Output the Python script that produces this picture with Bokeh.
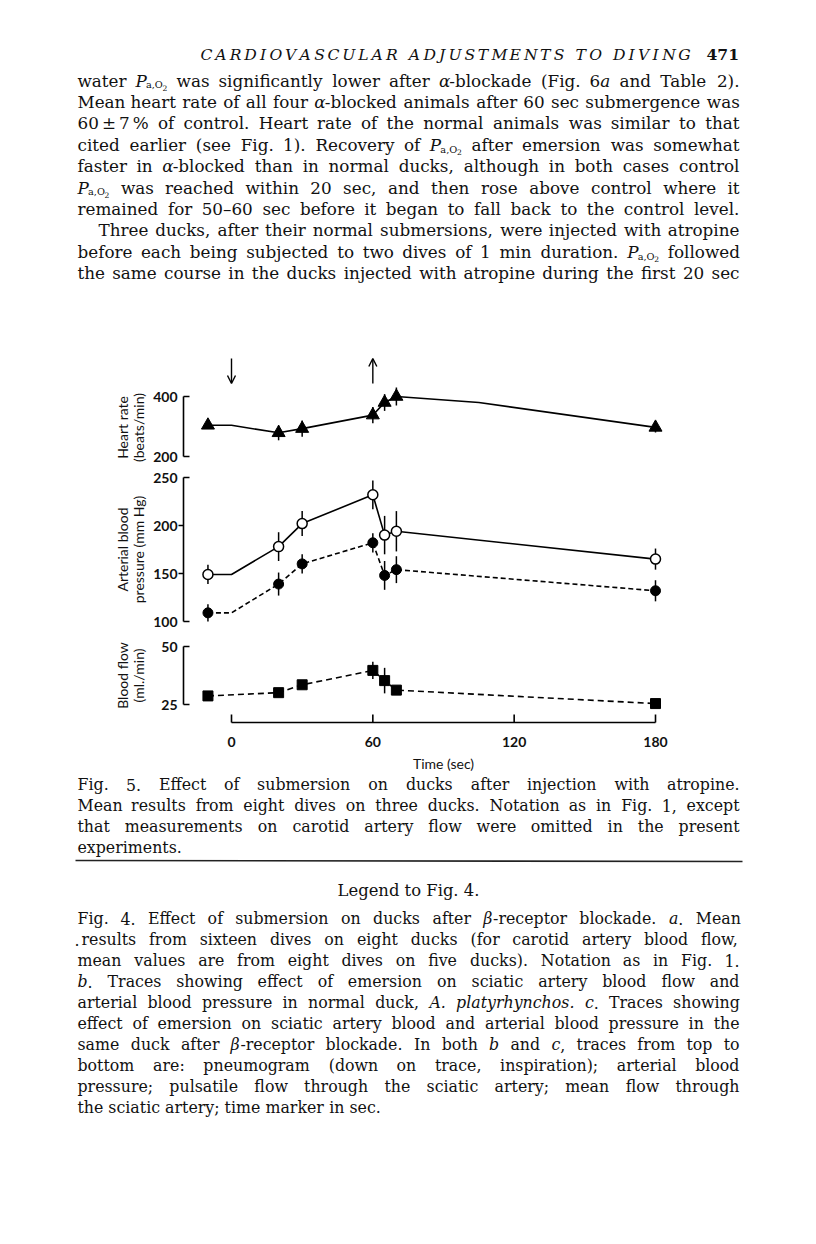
import math
from bokeh.plotting import figure
from bokeh.models import Range1d, Arrow, OpenHead
from bokeh.core.properties import value
from bokeh.embed import file_html
from bokeh.resources import INLINE

# ---------------- data ----------------
time_s = [-10, 20, 30, 60, 65, 70, 180]
heart_rate = [304, 279, 293, 338, 380, 400, 297]
heart_rate_err = [12, 25, 27, 27, 28, 30, 17]
heart_line_t = [-10, 0, 20, 30, 60, 65, 70, 105, 180]
heart_line_v = [304, 304, 279, 293, 338, 380, 400, 380, 297]
pressure_line_t = [-10, 0, 20, 30, 60, 65, 70, 180]
bp_open = [149, 178, 202, 232, 190, 194, 165]
bp_open_err = [10, 15, 13, 15, 20, 21, 11]
bp_filled = [109, 139, 160, 182, 148, 154, 132]
bp_filled_err = [9, 12, 10, 10, 15, 14, 11]
flow = [28.7, 30.1, 33.5, 39.7, 35.3, 31.2, 25.4]
flow_err = [0.0, 0.0, 0.0, 3.7, 5.5, 0.0, 0.0]
hr_ticks = [200, 400]
bp_ticks = [100, 150, 200, 250]
flow_ticks = [25, 50]
time_ticks = [0, 60, 120, 180]
time_tick_labels = ["0", "60", "120", "180"]
event_t = [0, 60]

# ---------------- page layout ----------------
W, H = 800, 1228
PX0, PX1, PY0, PY1 = 0, W, 0, H
PX_T0, PX_T180 = 231, 655
HR_MAP = ((400, 396), (200, 456))
BP_MAP = ((250, 477), (100, 621))
FL_MAP = ((50, 646), (25, 704))
AXIS_X = 183
TIME_AXIS_Y = 722
LM, RM = 77, 739
SERIF = "DejaVu Serif"
SANS = "Lato"
INK = "#111111"

p = figure(width=W, height=H, x_range=Range1d(PX0, PX1), y_range=Range1d(PY1, PY0),
           x_axis_location=None, y_axis_location=None, toolbar_location=None,
           output_backend="svg", min_border=0, outline_line_color=None,
           background_fill_color="white", border_fill_color="white")
p.xgrid.visible = False
p.ygrid.visible = False


def t_of(px):
    return (px - PX_T0) * 180.0 / (PX_T180 - PX_T0)


def range_from(m):
    (va, ya), (vb, yb) = m
    f = lambda y: va + (y - ya) * (vb - va) / (yb - ya)
    return Range1d(f(PY1), f(PY0))


p.extra_x_ranges = {"t": Range1d(t_of(PX0), t_of(PX1))}
p.extra_y_ranges = {"hr": range_from(HR_MAP), "bp": range_from(BP_MAP), "fl": range_from(FL_MAP)}

# ---------------- text machinery ----------------
_w = {' ': 651, '!': 823, '(': 799, ')': 799, ',': 651, '-': 692, '.': 651, '/': 690,
      ':': 690, ';': 690, '%': 1946, '±': 1716, '–': 1024, 'α': 1270, 'β': 1290,
      'A': 1479, 'B': 1438, 'C': 1495, 'D': 1610, 'E': 1466, 'F': 1359, 'G': 1618,
      'H': 1727, 'I': 815, 'J': 815, 'K': 1518, 'L': 1310, 'M': 1925, 'N': 1673,
      'O': 1612, 'P': 1346, 'Q': 1612, 'R': 1485, 'S': 1323, 'T': 1370, 'U': 1658,
      'V': 1479, 'W': 2113, 'X': 1479, 'Y': 1370, 'Z': 1405,
      'a': 1221, 'b': 1311, 'c': 1149, 'd': 1311, 'e': 1208, 'f': 739, 'g': 1311,
      'h': 1323, 'i': 657, 'j': 649, 'k': 1264, 'l': 657, 'm': 1966, 'n': 1323,
      'o': 1233, 'p': 1311, 'q': 1311, 'r': 975, 's': 1053, 't': 819, 'u': 1323,
      'v': 1165, 'w': 1706, 'x': 1165, 'y': 1165, 'z': 1075}
for d in "0123456789":
    _w[d] = 1303


def cw(s, italic=False):
    k = 1.0
    return sum(_w.get(c, 1230) for c in s) / 2048.0 * k


groups = {}


def emit(txt, x, y, size, italic=False, bold=False, font=SERIF, align="left",
         baseline="alphabetic", angle=0.0):
    key = (font, italic, bold, round(size, 2), align, baseline, angle)
    g = groups.setdefault(key, {"x": [], "y": [], "text": []})
    g["x"].append(x)
    g["y"].append(y)
    g["text"].append(txt)


def parse_word(word):
    pieces = []  # (text, italic, scale, dy, advance_em)
    italic = False
    buf = ""

    def flush():
        nonlocal buf
        if buf:
            pieces.append((buf, italic, 1.0, 0.0, cw(buf, italic)))
            buf = ""

    for ch in word:
        if ch == "*":
            flush()
            italic = not italic
        elif ch == "~":
            flush()
            pieces.append(("", False, 1.0, 0.0, 0.18))
        elif ch == "§":
            flush()
            pieces.append(("P", True, 1.0, 0.0, cw("P", True) * 0.95))
            pieces.append(("a,O", False, 0.58, 0.26, cw("a,O") * 0.58))
            pieces.append(("2", False, 0.45, 0.42, cw("2") * 0.45))
        else:
            buf += ch
    flush()
    return pieces


def set_line(text, y, size, x0=LM, x1=RM, justify=True):
    words = text.split(" ")
    parsed = [parse_word(wd) for wd in words]
    widths = [sum(pc[4] for pc in pw) * size for pw in parsed]
    if justify and len(words) > 1:
        gap = (x1 - x0 - sum(widths)) / (len(words) - 1)
    else:
        gap = cw(" ") * size
    x = x0
    for pw, wd in zip(parsed, widths):
        cx = x
        for (txt, it, sc, dy, adv) in pw:
            if txt:
                emit(txt, cx, y + dy * size, size * sc, italic=it)
            cx += adv * size
        x += wd + gap


# ---------------- running head ----------------
head = "CARDIOVASCULAR ADJUSTMENTS TO DIVING"
hs = 15.6
nat = cw(head, True) * hs
track = (690 - 200 - nat) / (len(head) - 1)
hx = 200.0
for ch in head:
    if ch != " ":
        emit(ch, hx, 54, hs, italic=True)
    hx += cw(ch, True) * hs + track
emit("471", 706, 54, 15.6, bold=True)

# ---------------- body text ----------------
BS = 16.8
body = [
    ("water § was significantly lower after *α*-blockade (Fig. 6*a* and Table 2).", True, LM),
    ("Mean heart rate of all four *α*-blocked animals after 60 sec submergence was", True, LM),
    ("60~±~7~% of control. Heart rate of the normal animals was similar to that", True, LM),
    ("cited earlier (see Fig. 1). Recovery of § after emersion was somewhat", True, LM),
    ("faster in *α*-blocked than in normal ducks, although in both cases control", True, LM),
    ("§ was reached within 20 sec, and then rose above control where it", True, LM),
    ("remained for 50–60 sec before it began to fall back to the control level.", True, LM),
    ("Three ducks, after their normal submersions, were injected with atropine", True, 98),
    ("before each being subjected to two dives of 1 min duration. § followed", True, LM),
    ("the same course in the ducks injected with atropine during the first 20 sec", True, LM),
]
for i, (txt, just, x0) in enumerate(body):
    set_line(txt, 80 + 21.4 * i, BS, x0=x0, justify=just)

# ---------------- captions ----------------
CS = 15.8
cap5 = [
    ("Fig. 5. Effect of submersion on ducks after injection with atropine.", True),
    ("Mean results from eight dives on three ducks. Notation as in Fig. 1, except", True),
    ("that measurements on carotid artery flow were omitted in the present", True),
    ("experiments.", False),
]
for i, (txt, just) in enumerate(cap5):
    set_line(txt, 784 + 21 * i, CS, justify=just)

emit("Legend to Fig. 4.", 408, 890, 16.4, align="center")

cap4 = [
    ("Fig. 4. Effect of submersion on ducks after *β*-receptor blockade. *a*. Mean", True, LM),
    ("results from sixteen dives on eight ducks (for carotid artery blood flow,", True, 81),
    ("mean values are from eight dives on five ducks). Notation as in Fig. 1.", True, LM),
    ("*b*. Traces showing effect of emersion on sciatic artery blood flow and", True, LM),
    ("arterial blood pressure in normal duck, *A.* *platyrhynchos.* *c*. Traces showing", True, LM),
    ("effect of emersion on sciatic artery blood and arterial blood pressure in the", True, LM),
    ("same duck after *β*-receptor blockade. In both *b* and *c*, traces from top to", True, LM),
    ("bottom are: pneumogram (down on trace, inspiration); arterial blood", True, LM),
    ("pressure; pulsatile flow through the sciatic artery; mean flow through", True, LM),
    ("the sciatic artery; time marker in sec.", False, LM),
]
for i, (txt, just, x0) in enumerate(cap4):
    set_line(txt, 918 + 21 * i, CS, x0=x0, justify=just)
emit(".", 74, 939, CS)

# separator rule
p.segment(x0=[75], y0=[860], x1=[742], y1=[861], line_color="#222", line_width=1.6)

# ---------------- chart ----------------
LW = 1.6


def panel_axis(ticks, rname):
    lo, hi = min(ticks), max(ticks)
    p.segment(x0=[AXIS_X], y0=[lo], x1=[AXIS_X], y1=[hi], y_range_name=rname,
              line_color="black", line_width=LW)
    ends = [lo, hi]
    mids = [t for t in ticks if t not in ends]
    p.segment(x0=[AXIS_X] * 2, y0=ends, x1=[AXIS_X + 6] * 2, y1=ends, y_range_name=rname,
              line_color="black", line_width=LW)
    if mids:
        p.segment(x0=[AXIS_X - 5] * len(mids), y0=mids, x1=[AXIS_X] * len(mids), y1=mids,
                  y_range_name=rname, line_color="black", line_width=LW)
    p.text(x=[AXIS_X - 6] * len(ticks), y=ticks, text=[str(t) for t in ticks],
           y_range_name=rname, text_font=value(SANS), text_font_style="bold",
           text_font_size="14px", text_align="right", text_baseline="middle", text_color=INK)


panel_axis(hr_ticks, "hr")
panel_axis(bp_ticks, "bp")
panel_axis(flow_ticks, "fl")

# axis titles (rotated)
for (l1, l2, yc) in [("Heart rate", "(beats/min)", 427),
                     ("Arterial blood", "pressure (mm Hg)", 549),
                     ("Blood flow", "(ml./min)", 675)]:
    emit(l1, 122, yc, 14, font=SANS, align="center", baseline="middle", angle=math.pi / 2)
    emit(l2, 138, yc, 14, font=SANS, align="center", baseline="middle", angle=math.pi / 2)

# time axis
p.segment(x0=[time_ticks[0]], y0=[TIME_AXIS_Y], x1=[time_ticks[-1]], y1=[TIME_AXIS_Y],
          x_range_name="t", line_color="black", line_width=LW)
p.segment(x0=time_ticks, y0=[TIME_AXIS_Y] * 4, x1=time_ticks, y1=[TIME_AXIS_Y - 8] * 4,
          x_range_name="t", line_color="black", line_width=LW)
p.text(x=time_ticks, y=[741] * 4, text=time_tick_labels, x_range_name="t",
       text_font=value(SANS), text_font_style="bold", text_font_size="14px",
       text_align="center", text_baseline="middle", text_color=INK)
p.text(x=[90], y=[763], text=["Time (sec)"], x_range_name="t", text_font=value(SANS),
       text_font_size="14px", text_align="center", text_baseline="middle", text_color=INK)

# submersion / emersion arrows
p.add_layout(Arrow(x_start=event_t[0], y_start=358, x_end=event_t[0], y_end=383,
                   x_range_name="t", line_width=1.4, line_color="black",
                   end=OpenHead(size=8, line_width=1.4, line_color="black")))
p.add_layout(Arrow(x_start=event_t[1], y_start=383, x_end=event_t[1], y_end=358,
                   x_range_name="t", line_width=1.4, line_color="black",
                   end=OpenHead(size=8, line_width=1.4, line_color="black")))


def errbars(vals, errs, rname):
    xs = [t for t, e in zip(time_s, errs) if e > 0]
    lo = [v - e for v, e in zip(vals, errs) if e > 0]
    hi = [v + e for v, e in zip(vals, errs) if e > 0]
    p.segment(x0=xs, y0=lo, x1=xs, y1=hi, x_range_name="t", y_range_name=rname,
              line_color="black", line_width=1.5)


# heart rate
errbars(heart_rate, heart_rate_err, "hr")
p.line(heart_line_t, heart_line_v, x_range_name="t", y_range_name="hr",
       line_color="black", line_width=LW)
p.scatter(time_s, heart_rate, marker="triangle", size=13, x_range_name="t", y_range_name="hr",
          fill_color="black", line_color="black")

# blood pressure
errbars(bp_open, bp_open_err, "bp")
errbars(bp_filled, bp_filled_err, "bp")
p.line(pressure_line_t, [bp_open[0]] + bp_open, x_range_name="t", y_range_name="bp",
       line_color="black", line_width=LW)
p.line(pressure_line_t, [bp_filled[0]] + bp_filled, x_range_name="t", y_range_name="bp",
       line_color="black", line_width=LW, line_dash="5 3")
p.scatter(time_s, bp_open, marker="circle", size=10, x_range_name="t", y_range_name="bp",
          fill_color="white", line_color="black", line_width=1.5)
p.scatter(time_s, bp_filled, marker="circle", size=10, x_range_name="t", y_range_name="bp",
          fill_color="black", line_color="black")

# blood flow
errbars(flow, flow_err, "fl")
p.line(time_s, flow, x_range_name="t", y_range_name="fl", line_color="black",
       line_width=LW, line_dash="6 4")
p.scatter(time_s, flow, marker="square", size=10, x_range_name="t", y_range_name="fl",
          fill_color="black", line_color="black")

# ---------------- render collected text ----------------
for (font, italic, bold, size, align, baseline, angle), g in groups.items():
    style = "bold italic" if (italic and bold) else ("italic" if italic else ("bold" if bold else "normal"))
    p.text(x=g["x"], y=g["y"], text=g["text"], text_font=value(font), text_font_style=style,
           text_font_size=f"{size}px", text_align=align, text_baseline=baseline,
           angle=angle, text_color=INK)

open("out.html", "w").write(file_html(p, INLINE))
